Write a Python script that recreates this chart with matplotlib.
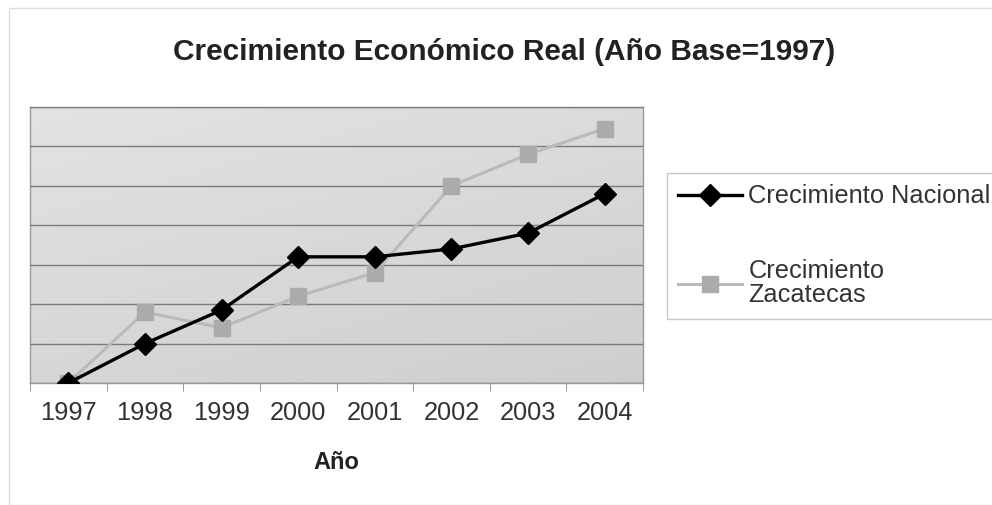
#-*- coding:utf-8 -*-
import numpy as np
import matplotlib
matplotlib.use('Agg')
import matplotlib.pyplot as plt
from matplotlib.patches import Rectangle

plt.rcParams['font.family'] = ['Liberation Sans', 'DejaVu Sans']

years = ['1997', '1998', '1999', '2000', '2001', '2002', '2003', '2004']
nacional = [0.0, 1.0, 1.85, 3.2, 3.2, 3.4, 3.8, 4.8]
zacatecas = [0.0, 1.8, 1.4, 2.2, 2.8, 5.0, 5.8, 6.45]

fig = plt.figure(figsize=(9.92, 5.05), dpi=100)
ax = fig.add_axes([30 / 992, 1 - 383 / 505, 613 / 992, 276 / 505])

# fondo gris claro con degradado suave
gy, gx = np.mgrid[0:1:128j, 0:1:128j]
shade = 0.81 + 0.05 * (1 - gy) + 0.03 * (1 - gx)
bg = np.dstack([shade, shade, shade])
ax.imshow(bg, extent=(-0.5, 7.5, 0, 7), aspect='auto', origin='upper',
          zorder=0, interpolation='bicubic')

pos = np.arange(len(years))
ax.plot(pos, zacatecas, '-s', color='#bababa', lw=2.2, ms=12,
        mfc='#ababab', mec='#ababab', label='Crecimiento\nZacatecas', zorder=3)
ax.plot(pos, nacional, '-D', color='black', lw=2.4, ms=11,
        label='Crecimiento Nacional', zorder=4)

ax.set_xlim(-0.5, 7.5)
ax.set_ylim(0, 7)
ax.set_yticks(np.arange(0, 8))
ax.yaxis.grid(True, color='#7a7a7a', lw=1)
ax.set_axisbelow(False)
for gl in ax.get_ygridlines():
    gl.set_zorder(1)
ax.tick_params(axis='y', left=False, labelleft=False)

ax.set_xticks(pos)
ax.set_xticklabels(years, fontsize=18.3, color='#333333')
ax.set_xticks(np.arange(-0.5, 8, 1), minor=True)
ax.tick_params(axis='x', which='major', length=0, pad=13)
ax.tick_params(axis='x', which='minor', length=6, color='#888888', direction='out')
for s in ax.spines.values():
    s.set_color('#999999')
    s.set_linewidth(1)

ax.set_xlabel('Año', fontsize=17, fontweight='bold', labelpad=19, color='#222222')

fig.suptitle('Crecimiento Económico Real (Año Base=1997)', fontsize=21.5,
             fontweight='bold', x=0.508, y=0.925, color='#222222')

handles, labels = ax.get_legend_handles_labels()
leg = fig.legend(handles[::-1], labels[::-1], loc='upper left',
                 bbox_to_anchor=(667 / 992, 1 - 173 / 505), fontsize=18.3,
                 frameon=True, fancybox=False, handlelength=2.5,
                 handletextpad=0.25, labelspacing=2.0, borderpad=0.45,
                 borderaxespad=0)
leg.get_frame().set_edgecolor('#bbbbbb')
leg.get_frame().set_linewidth(1)
for t in leg.get_texts():
    t.set_color('#333333')
    t.set_linespacing(1.0)

# borde tenue del area del grafico
fig.patches.append(Rectangle((9 / 992, 0.0), 1.2, 1 - 8 / 505, transform=fig.transFigure,
                             fill=False, edgecolor='#dddddd', lw=1))

fig.savefig('out.png', dpi=100)
